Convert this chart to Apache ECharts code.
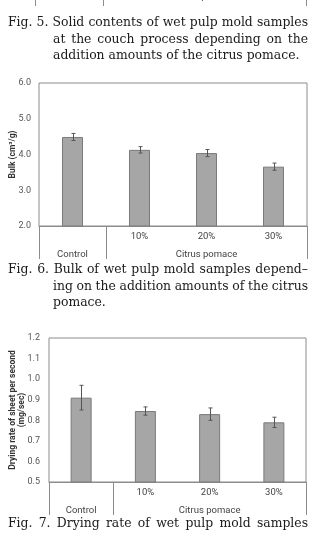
<!DOCTYPE html>
<html>
<head>
<meta charset="utf-8">
<script src="https://cdn.jsdelivr.net/npm/echarts@6.0.0/dist/echarts.min.js"></script>
<style>
  html, body { margin: 0; padding: 0; background: #fff; }
  #chart { width: 310px; height: 540px; }
</style>
</head>
<body>
<div id="chart"></div>
<script>
// data
const categories = ['Control', '10%', '20%', '30%'];
const doseLabels = ['', '10%', '20%', '30%'];
const groupLabels = ['Control', 'Citrus pomace'];
const groupEdges = [0, 1, 4];

const bulkMean = [4.49, 4.13, 4.04, 3.66];
const bulkErr = [0.10, 0.09, 0.10, 0.10];

const dryMean = [0.91, 0.845, 0.83, 0.79];
const dryErr = [0.06, 0.02, 0.03, 0.025];

const captions = [
  { lines: ['Fig. 5. Solid contents of wet pulp mold samples',
            'at the couch process depending on the',
            'addition amounts of the citrus pomace.'], top: 23, justifyLast: false },
  { lines: ['Fig. 6. Bulk of wet pulp mold samples depend\u2013',
            'ing on the addition amounts of the citrus',
            'pomace.'], top: 270, justifyLast: false },
  { lines: ['Fig. 7. Drying rate of wet pulp mold samples'], top: 524, justifyLast: true }
];

const SANS = 'Roboto, "Noto Sans", sans-serif';
const SERIF_FONT = '12.4px "DejaVu Serif"';
const GRAY = '#8c8c8c';

const chart = echarts.init(document.getElementById('chart'));

// spread words of a line so it fills the measure, like the typeset caption
const measure = document.createElement('canvas').getContext('2d');
measure.font = SERIF_FONT;
function captionText(cap) {
  const out = [];
  cap.lines.forEach((line, li) => {
    const x0 = li === 0 ? 8 : 53;
    const x1 = 308;
    const y = cap.top + li * 16.5;
    const last = li === cap.lines.length - 1;
    const words = line.split(' ');
    if (last && !cap.justifyLast) {
      out.push({ type: 'text', style: { text: line, x: x0, y, font: SERIF_FONT, fill: '#1a1a1a', verticalAlign: 'middle' } });
      return;
    }
    const widths = words.map(w => measure.measureText(w).width);
    const total = widths.reduce((a, b) => a + b, 0);
    const gap = (x1 - x0 - total) / (words.length - 1);
    let x = x0;
    words.forEach((w, i) => {
      out.push({ type: 'text', style: { text: w, x, y, font: SERIF_FONT, fill: '#1a1a1a', verticalAlign: 'middle' } });
      x += widths[i] + gap;
    });
  });
  return out;
}

// tail of Fig. 5 chart peeking in at the top edge
const fig5Tail = [
  ...[35, 103, 306].map(x => ({ type: 'line', shape: { x1: x + 0.5, y1: 0, x2: x + 0.5, y2: 6 }, style: { stroke: GRAY, lineWidth: 1 } })),
  { type: 'text', style: { text: 'Control', x: 70, y: -3, align: 'center', verticalAlign: 'middle', fontSize: 9.5, fontFamily: SANS, fill: '#444' } },
  { type: 'text', style: { text: 'Citrus pomace', x: 205, y: -3, align: 'center', verticalAlign: 'middle', fontSize: 9.5, fontFamily: SANS, fill: '#444' } }
];

function errorBars(gridIdx, mean, err) {
  return {
    type: 'custom',
    xAxisIndex: gridIdx * 2,
    yAxisIndex: gridIdx,
    z: 5,
    data: mean.map((m, i) => [i, m, err[i]]),
    encode: { x: 0, y: 1 },
    renderItem: (params, api) => {
      const i = api.value(0), m = api.value(1), e = api.value(2);
      const hi = api.coord([i, m + e]);
      const lo = api.coord([i, m - e]);
      const x = Math.round(hi[0]) + 0.5;
      const st = { stroke: '#555', lineWidth: 1 };
      return {
        type: 'group',
        children: [
          { type: 'line', shape: { x1: x, y1: hi[1], x2: x, y2: lo[1] }, style: st },
          { type: 'line', shape: { x1: x - 2, y1: hi[1], x2: x + 2, y2: hi[1] }, style: st },
          { type: 'line', shape: { x1: x - 2, y1: lo[1], x2: x + 2, y2: lo[1] }, style: st }
        ]
      };
    }
  };
}

function xAxes(gridIdx) {
  return [
    {
      type: 'category',
      gridIndex: gridIdx,
      data: categories,
      axisLine: { show: true, lineStyle: { color: GRAY } },
      axisTick: { show: false },
      axisLabel: { formatter: (v, i) => doseLabels[i], margin: 6, fontSize: 9.5, fontFamily: SANS, color: '#444' }
    },
    {
      type: 'value',
      gridIndex: gridIdx,
      position: 'bottom',
      min: 0,
      max: 4,
      axisLine: { show: false },
      splitLine: { show: false },
      axisTick: { show: true, customValues: groupEdges, length: 33, lineStyle: { color: GRAY } },
      axisLabel: {
        customValues: [0.5, 2.5],
        formatter: v => (v < 1 ? groupLabels[0] : groupLabels[1]),
        margin: 24, fontSize: 9.5, fontFamily: SANS, color: '#444'
      }
    }
  ];
}

const option = {
  animation: false,
  backgroundColor: '#fff',
  grid: [
    { left: 39, right: 3, top: 83, height: 143, show: true, borderColor: GRAY, borderWidth: 1, outerBoundsMode: 'none', containLabel: false },
    { left: 49, right: 4, top: 338, height: 144, show: true, borderColor: GRAY, borderWidth: 1, outerBoundsMode: 'none', containLabel: false }
  ],
  xAxis: [...xAxes(0), ...xAxes(1)],
  yAxis: [
    {
      type: 'value',
      gridIndex: 0,
      min: 2,
      max: 6,
      interval: 1,
      axisLine: { show: false },
      axisTick: { show: false },
      splitLine: { show: false },
      axisLabel: { formatter: v => v.toFixed(1), margin: 8, fontSize: 9, fontFamily: SANS, color: '#555' },
      name: 'Bulk (cm\u00b3/g)',
      nameLocation: 'middle',
      nameGap: 22,
      nameMoveOverlap: false,
      nameTextStyle: { fontSize: 8.5, fontWeight: 'bold', fontFamily: SANS, color: '#333' }
    },
    {
      type: 'value',
      gridIndex: 1,
      min: 0.5,
      max: 1.2,
      interval: 0.1,
      axisLine: { show: false },
      axisTick: { show: false },
      splitLine: { show: false },
      axisLabel: { formatter: v => v.toFixed(1), margin: 9, fontSize: 9, fontFamily: SANS, color: '#555' },
      name: 'Drying rate of sheet per second\n(mg/sec)',
      nameLocation: 'middle',
      nameGap: 22,
      nameMoveOverlap: false,
      nameTextStyle: { fontSize: 8.5, fontWeight: 'bold', fontFamily: SANS, color: '#333', lineHeight: 9.5 }
    }
  ],
  series: [
    {
      type: 'bar',
      xAxisIndex: 0,
      yAxisIndex: 0,
      data: bulkMean,
      barWidth: 21,
      itemStyle: { color: '#a6a6a6', borderColor: '#7a7a7a', borderWidth: 1 }
    },
    errorBars(0, bulkMean, bulkErr),
    {
      type: 'bar',
      xAxisIndex: 2,
      yAxisIndex: 1,
      data: dryMean,
      barWidth: 21,
      itemStyle: { color: '#a6a6a6', borderColor: '#7a7a7a', borderWidth: 1 }
    },
    errorBars(1, dryMean, dryErr)
  ],
  graphic: [
    ...fig5Tail,
    ...captions.flatMap(captionText)
  ]
};

chart.setOption(option);
</script>
</body>
</html>
